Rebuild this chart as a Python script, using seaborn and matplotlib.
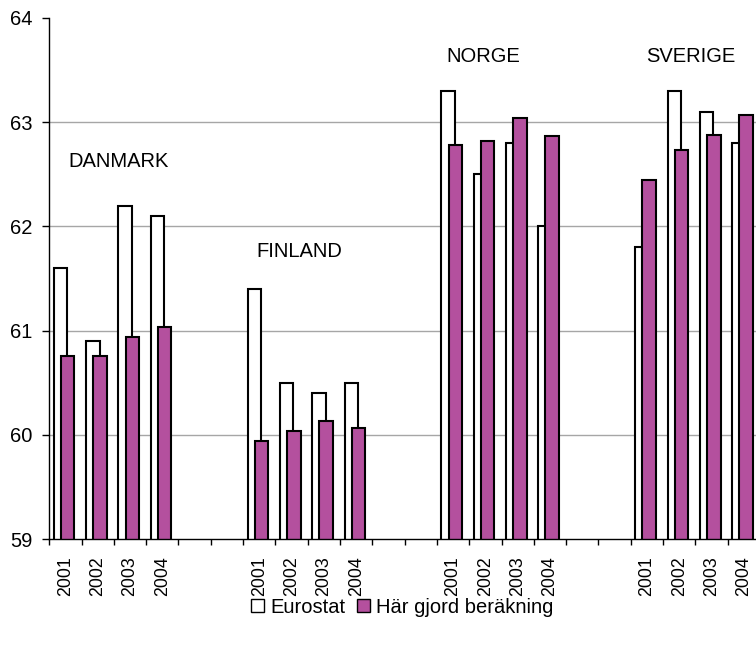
import matplotlib
matplotlib.use("Agg")
import matplotlib.pyplot as plt
from matplotlib.patches import Patch
import seaborn as sns
import pandas as pd

# Data
countries = ["DANMARK", "FINLAND", "NORGE", "SVERIGE"]
years = ["2001", "2002", "2003", "2004"]
eurostat = [
    61.6, 60.9, 62.2, 62.1,   # DANMARK
    61.4, 60.5, 60.4, 60.5,   # FINLAND
    63.3, 62.5, 62.8, 62.0,   # NORGE
    61.8, 63.3, 63.1, 62.8,   # SVERIGE
]
egen = [
    60.76, 60.76, 60.94, 61.04,
    59.94, 60.04, 60.13, 60.07,
    62.78, 62.82, 63.04, 62.87,
    62.45, 62.73, 62.88, 63.07,
]
series_names = ["Eurostat", "Här gjord beräkning"]
group_label_pos = {  # (x in slot units, y in data units)
    "DANMARK": (0.09, 62.57),
    "FINLAND": (5.92, 61.71),
    "NORGE": (11.80, 63.575),
    "SVERIGE": (17.97, 63.575),
}

# Category slots: four years per country, two empty slots between countries
slots, slot_years = [], []
for ci, c in enumerate(countries):
    for y in years:
        slots.append(f"{c} {y}")
        slot_years.append(y)
    if ci < len(countries) - 1:
        for g in range(2):
            slots.append(f"gap{ci}_{g}")
            slot_years.append("")

data_slots = [f"{c} {y}" for c in countries for y in years]
df = pd.DataFrame({
    "slot": data_slots * 2,
    "serie": [series_names[0]] * len(data_slots) + [series_names[1]] * len(data_slots),
    "value": eurostat + egen,
})

FS = 14.5
FS_X = 12.8
sns.set_theme(style="white")
plt.rcParams["font.family"] = ["Liberation Sans", "DejaVu Sans"]
plt.rcParams.update({
    "text.color": "black",
    "axes.labelcolor": "black",
    "xtick.color": "black",
    "ytick.color": "black",
})

fig = plt.figure(figsize=(7.56, 6.46), dpi=100)
ax = fig.add_axes([0.0652, 0.1653, 0.940, 0.8069])

purple = "#B4509E"
colors = ["white", purple]
offsets = [-0.15, 0.07]
for name, col, off in zip(series_names, colors, offsets):
    sub = df[df["serie"] == name]
    sns.barplot(data=sub, x="slot", y="value", order=slots, color=col,
                edgecolor="black", linewidth=1.5, width=0.42, errorbar=None,
                saturation=1, ax=ax, zorder=3)
    for bar in ax.containers[-1]:
        bar.set_x(bar.get_x() + off)

ax.set_ylim(59, 64)
ax.set_xlim(-0.5, len(slots) - 0.5)
ax.set_xlabel("")
ax.set_ylabel("")

# Grid and spines
ax.set_yticks([59, 60, 61, 62, 63, 64])
ax.set_yticklabels(["59", "60", "61", "62", "63", "64"], fontsize=FS)
for v in [60, 61, 62, 63]:
    ax.axhline(v, color="#A6A6A6", linewidth=1.0, zorder=1)
ax.grid(False)
for s in ["top", "right"]:
    ax.spines[s].set_visible(False)
for s in ["left", "bottom"]:
    ax.spines[s].set_color("black")
    ax.spines[s].set_linewidth(1.0)
    ax.spines[s].set_zorder(4)

ax.tick_params(axis="y", which="major", direction="out", length=4.8, width=1,
               color="black", labelcolor="black", pad=7.5, left=True)

# Tick marks between slots, year labels in the middle of slots
n = len(slots)
ax.set_xticks([i - 0.5 for i in range(n + 1)])
ax.set_xticklabels([""] * (n + 1))
ax.set_xticks(list(range(n)), minor=True)
ax.set_xticklabels(slot_years, minor=True, rotation=90, fontsize=FS_X)
ax.tick_params(axis="x", which="major", direction="out", length=4, width=1,
               color="black", bottom=True)
ax.tick_params(axis="x", which="minor", length=0, pad=12.5, bottom=True,
               labelcolor="black")

# Country labels
for c in countries:
    x, y = group_label_pos[c]
    ax.text(x, y, c, fontsize=FS, ha="left", va="baseline", color="black",
            zorder=5)

# Legend
handles = [Patch(facecolor=col, edgecolor="black", linewidth=1.0, label=nm)
           for nm, col in zip(series_names, colors)]
leg = fig.legend(handles=handles, loc="center", bbox_to_anchor=(0.532, 0.0600),
                 ncol=2, frameon=False, fontsize=FS, handlelength=0.65,
                 handleheight=0.65, handletextpad=0.3, columnspacing=0.6,
                 borderaxespad=0)
for t in leg.get_texts():
    t.set_color("black")

fig.savefig("out.png", dpi=100)
